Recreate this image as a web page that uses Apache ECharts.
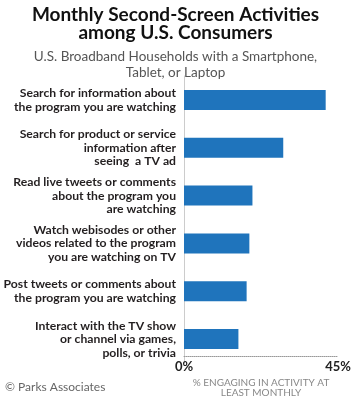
<!DOCTYPE html>
<html>
<head>
<meta charset="utf-8">
<script src="https://cdn.jsdelivr.net/npm/echarts@6/dist/echarts.min.js"></script>
<style>
  html, body { margin: 0; padding: 0; background: #fff; }
  #chart { width: 351px; height: 400px; }
</style>
</head>
<body>
<div id="chart"></div>
<script>
// activities, top to bottom as shown
var activities = [
    'Search for information about\nthe program you are watching',
    'Search for product or service\ninformation after\nseeing  a TV ad',
    'Read live tweets or comments\nabout the program you\nare watching',
    'Watch webisodes or other\nvideos related to the program\nyou are watching on TV',
    'Post tweets or comments about\nthe program you are watching',
    'Interact with the TV show\nor channel via games,\npolls, or trivia'
];
// % engaging in activity at least monthly
var pctMonthly = [41.4, 29.0, 20.0, 19.1, 18.3, 15.9];
var axisTicks = [0, 45];

var chart = echarts.init(document.getElementById('chart'));

var labelFont = 'Lato, sans-serif';

var option = {
    animation: false,
    title: [
        {
            text: 'Monthly Second-Screen Activities\namong U.S. Consumers',
            subtext: 'U.S. Broadband Households with a Smartphone,\nTablet, or Laptop',
            left: 'center',
            top: 1,
            itemGap: 6,
            textStyle: {
                fontFamily: 'Lato, sans-serif',
                fontWeight: 'bold',
                fontSize: 19,
                lineHeight: 18,
                color: '#111'
            },
            subtextStyle: {
                fontFamily: 'Lato, sans-serif',
                fontSize: 13.5,
                lineHeight: 16,
                color: '#555'
            }
        },
        {
            text: '\u00a9 Parks Associates',
            left: 0,
            top: 376,
            textStyle: {
                fontFamily: 'Lato, sans-serif',
                fontWeight: 'normal',
                fontSize: 12,
                color: '#666'
            }
        }
    ],
    grid: {
        left: 184,
        right: 13,
        top: 76,
        bottom: 37,
        outerBoundsMode: 'none'
    },
    xAxis: {
        type: 'value',
        min: axisTicks[0],
        max: axisTicks[1],
        interval: 45,
        offset: -7,
        axisLine: { show: true, lineStyle: { color: '#999', type: 'dotted', width: 1 } },
        axisTick: { show: false },
        splitLine: { show: false },
        axisLabel: {
            margin: 4,
            formatter: '{value}%',
            fontFamily: labelFont,
            fontWeight: 'bold',
            fontSize: 13,
            color: '#222'
        },
        name: '% ENGAGING IN ACTIVITY AT\nLEAST MONTHLY',
        nameLocation: 'middle',
        nameGap: 14,
        nameTextStyle: {
            fontFamily: labelFont,
            fontSize: 10,
            lineHeight: 10,
            color: '#888',
            verticalAlign: 'top'
        }
    },
    yAxis: {
        type: 'category',
        inverse: true,
        data: activities,
        axisLine: { show: true, lineStyle: { color: '#ccc', width: 1 } },
        axisTick: { show: false },
        axisLabel: {
            margin: 8,
            fontFamily: labelFont,
            fontWeight: 'bold',
            fontSize: 12.2,
            lineHeight: 13.5,
            color: '#231f20'
        }
    },
    series: [
        {
            type: 'bar',
            data: pctMonthly,
            barWidth: 20,
            itemStyle: { color: '#1f74bc' }
        }
    ]
};

chart.setOption(option);
</script>
</body>
</html>
